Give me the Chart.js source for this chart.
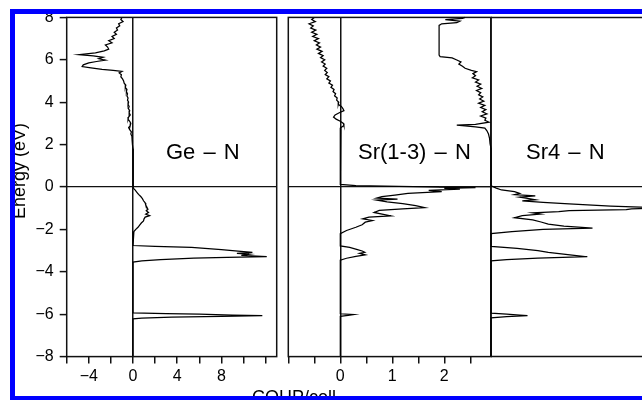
<!DOCTYPE html>
<html>
<head>
<meta charset="utf-8">
<script src="https://cdn.jsdelivr.net/npm/chart.js@4.4.1/dist/chart.umd.min.js"></script>
<style>
  html, body { margin: 0; padding: 0; background: #fff; }
  #wrap { position: relative; width: 642px; height: 400px; overflow: hidden; font-family: "Liberation Sans", Arial, sans-serif; }
  canvas { position: absolute; left: 0; top: 0; }
  .lbl { position: absolute; color: #000; white-space: nowrap; }
  .panel { font-size: 22px; line-height: 22px; word-spacing: 2px; }
  #frame { position: absolute; left: 10px; top: 9px; width: 700px; height: 382px; border: 5px solid #0000ff; border-right: none; }
</style>
</head>
<body>
<div id="wrap">
  <canvas id="ge" width="642" height="400"></canvas>
  <canvas id="sr" width="642" height="400"></canvas>
  <canvas id="sr4" width="720" height="400"></canvas>
  <div class="lbl panel" style="left:166px; top:141px;">Ge – N</div>
  <div class="lbl panel" style="left:358px; top:141px;">Sr(1-3) – N</div>
  <div class="lbl panel" style="left:526px; top:141px;">Sr4 – N</div>
  <div class="lbl" style="left:252px; top:388px; font-size:18px; line-height:18px;">COHP/cell</div>
  <div class="lbl" style="left:19px; top:171px; font-size:18px; line-height:18px; transform: translate(-50%, -50%) rotate(-90deg);">Energy (eV)</div>
  <div id="frame"></div>
</div>
<script>
// energy axis (shared by all panels)
const energyTicks = [-8, -6, -4, -2, 0, 2, 4, 6, 8];

// Ge - N
const geXLabels = [-4, 0, 4, 8];
const geEnergy = [8.0, 7.9, 7.8, 7.7, 7.6, 7.5, 7.4, 7.3, 7.2, 7.1,
  7.0, 6.9, 6.8, 6.7, 6.6, 6.5, 6.42, 6.33, 6.24, 6.18,
  6.12, 6.05, 5.98, 5.92, 5.85, 5.76, 5.68, 5.62, 5.55, 5.5,
  5.45, 5.38, 5.3, 5.2, 5.1, 5.0, 4.9, 4.8, 4.7, 4.6,
  4.5, 4.4, 4.3, 4.2, 4.1, 4.0, 3.9, 3.8, 3.7, 3.6,
  3.5, 3.4, 3.3, 3.2, 3.1, 3.0, 2.9, 2.8, 2.7, 2.6,
  2.5, 2.4, 2.2, 2.0, 1.8, 0.02,
  -0.06, -0.15, -0.25, -0.35, -0.45, -0.55, -0.65, -0.75, -0.85, -0.95,
  -1.05, -1.12, -1.2, -1.28, -1.35, -1.42, -1.5, -1.6, -1.7, -1.8,
  -1.9, -2.0, -2.1, -2.2,
  -2.76, -2.8, -2.85, -2.95, -3.02, -3.08, -3.13, -3.17, -3.22, -3.28, -3.32, -3.36, -3.42, -3.48, -3.54,
  -5.94, -5.97, -6.0, -6.04, -6.07, -6.1, -6.14, -6.18, -6.22, -8.0];
const geCohp = [-1.0, -1.1, -0.9, -1.3, -1.2, -1.5, -1.4, -1.7, -1.5, -1.9,
  -1.7, -2.2, -1.9, -2.5, -2.3, -2.2, -2.6, -3.4, -4.9, -3.6,
  -2.7, -3.1, -2.5, -3.3, -4.0, -4.5, -4.6, -3.8, -2.8, -1.8,
  -1.0, -1.25, -1.05, -1.1, -0.95, -0.85, -0.8, -0.65, -0.7, -0.55,
  -0.6, -0.5, -0.55, -0.45, -0.5, -0.4, -0.45, -0.35, -0.42, -0.3,
  -0.35, -0.25, -0.4, -0.45, -0.3, -0.2, -0.25, -0.4, -0.3, -0.15,
  -0.2, -0.1, -0.08, -0.05, 0, 0,
  0.05, 0.2, 0.35, 0.5, 0.7, 0.85, 0.95, 1.1, 1.15, 1.25,
  1.35, 1.2, 1.4, 1.15, 1.5, 1.1, 1.0, 0.95, 0.75, 0.6,
  0.45, 0.25, 0.08, 0,
  0, 2.0, 5.3, 8.0, 9.5, 10.8, 9.4, 10.5, 9.8, 12.1, 8.5, 5.5, 2.5, 0.8, 0,
  0, 3.0, 6.0, 9.0, 11.7, 8.0, 3.5, 0.8, 0, 0];

// Sr(1-3) - N
const srXLabels = [0, 1, 2];
const srEnergy = [8.0, 7.9, 7.8, 7.7, 7.6, 7.5, 7.4, 7.3, 7.2, 7.1,
  7.0, 6.9, 6.8, 6.7, 6.6, 6.5, 6.4, 6.3, 6.2, 6.1,
  6.0, 5.9, 5.8, 5.7, 5.6, 5.5, 5.4, 5.3, 5.2, 5.1,
  5.0, 4.9, 4.8, 4.7, 4.6, 4.5, 4.4, 4.3, 4.2, 4.1,
  4.0, 3.9, 3.8, 3.7, 3.6, 3.5, 3.4, 3.3, 3.2, 3.1,
  3.0, 2.9, 2.8, 2.7,
  0.12, 0.06, 0.02, -0.03, -0.07, -0.1, -0.16, -0.22, -0.3, -0.38,
  -0.45, -0.52, -0.57, -0.62, -0.7, -0.78, -0.88, -0.97, -1.03, -1.1,
  -1.2, -1.3, -1.36, -1.42, -1.5, -1.58, -1.66, -1.78, -1.9, -2.05,
  -2.2,
  -2.78, -2.85, -2.95, -3.02, -3.08, -3.13, -3.2, -3.27, -3.36, -3.45,
  -5.98, -6.02, -6.06, -6.1, -8.0];
const srCohp = [-0.5, -0.55, -0.48, -0.6, -0.52, -0.57, -0.47, -0.55, -0.45, -0.53,
  -0.42, -0.5, -0.4, -0.46, -0.38, -0.45, -0.35, -0.42, -0.33, -0.38,
  -0.3, -0.36, -0.29, -0.33, -0.26, -0.3, -0.25, -0.29, -0.22, -0.26,
  -0.19, -0.22, -0.15, -0.18, -0.12, -0.14, -0.09, -0.11, -0.06, -0.07,
  -0.03, -0.04, 0.02, 0.05, 0.07, -0.02, -0.1, -0.13, -0.08, 0.0,
  0.06, 0.07, 0.01, 0,
  0, 0.3, 1.4, 2.6, 2.0, 2.3, 1.7, 1.95, 1.3, 1.05,
  0.8, 0.7, 1.1, 0.7, 0.9, 1.2, 1.45, 1.62, 1.2, 0.75,
  0.65, 0.85, 0.97, 0.55, 0.43, 0.62, 0.48, 0.42, 0.3, 0.12,
  0,
  0, 0.18, 0.33, 0.42, 0.47, 0.37, 0.48, 0.3, 0.12, 0,
  0, 0.26, 0.15, 0, 0];

// Sr4 - N (the antibonding part reaches the left edge of its own axis at -1)
const sr4Energy = [8.0, 7.95, 7.9, 7.82, 7.75, 7.7, 7.62, 7.55, 7.3, 7.0,
  6.7, 6.4, 6.22, 6.15, 6.09, 6.0, 5.9, 5.8, 5.7, 5.6,
  5.5, 5.44, 5.35, 5.25, 5.15, 5.05, 4.95, 4.85, 4.75, 4.65,
  4.55, 4.45, 4.35, 4.25, 4.15, 4.05, 3.95, 3.85, 3.75, 3.65,
  3.55, 3.45, 3.35, 3.25, 3.15, 3.06, 2.95, 2.92, 2.88, 2.84,
  2.78, 2.65, 2.5, 2.3, 2.05, 1.8, 0.05,
  -0.05, -0.14, -0.22, -0.3, -0.36, -0.42, -0.48, -0.54, -0.6, -0.66,
  -0.72, -0.8, -0.9, -0.98, -1.03, -1.07, -1.12, -1.16, -1.22, -1.28,
  -1.35, -1.45, -1.55, -1.65, -1.75, -1.85, -1.94, -2.0, -2.1, -2.2,
  -2.8, -2.9, -3.0, -3.08, -3.15, -3.22, -3.29, -3.35, -3.42, -3.48,
  -5.95, -6.0, -6.04, -6.07, -6.11, -6.17, -8.0];
const sr4Cohp = [-0.5, -0.55, -0.88, -0.6, -0.66, -0.95, -1.0, -1.0, -1.0, -1.0,
  -1.0, -1.0, -1.0, -0.98, -0.75, -0.67, -0.58, -0.62, -0.55, -0.5,
  -0.38, -0.28, -0.35, -0.3, -0.36, -0.24, -0.3, -0.2, -0.27, -0.18,
  -0.28, -0.2, -0.24, -0.16, -0.22, -0.14, -0.24, -0.12, -0.2, -0.1,
  -0.17, -0.08, -0.2, -0.1, -0.12, -0.04, -0.3, -0.66, -0.5, -0.3,
  -0.12, -0.08, -0.05, -0.03, -0.02, 0, 0,
  0.1, 0.2, 0.45, 0.55, 0.45, 0.85, 0.55, 0.7, 0.85, 0.6,
  1.0, 1.5, 2.3, 3.3, 2.7, 2.6, 1.5, 1.3, 0.8, 0.95,
  0.6, 0.45, 0.8, 0.96, 1.1, 1.4, 1.95, 1.0, 0.4, 0,
  0, 0.5, 0.9, 1.1, 1.35, 1.6, 1.85, 0.9, 0.3, 0,
  0, 0.3, 0.55, 0.7, 0.3, 0, 0];

Chart.defaults.font.family = '"Liberation Sans", Arial, sans-serif';
Chart.defaults.font.size = 16;
Chart.defaults.color = '#000';

const AXIS = '#111';
const near = (a, b) => Math.abs(a - b) < 1e-6;
const fmt = v => (v < 0 ? '\u2212' + Math.abs(v) : String(v));
const zeroOnly = c => (c.tick && near(c.tick.value, 0) ? AXIS : 'rgba(0,0,0,0)');

// box round the plot area (or just top/bottom lines for the last panel)
const framePlugin = {
  id: 'frame',
  afterDatasetsDraw(chart, args, opts) {
    const { ctx, chartArea: a } = chart;
    ctx.save();
    ctx.strokeStyle = AXIS;
    ctx.lineWidth = 1.5;
    if (opts.full) {
      ctx.strokeRect(a.left, a.top, a.right - a.left, a.bottom - a.top);
    } else {
      const x0 = chart.scales.x.getPixelForValue(0);
      ctx.beginPath();
      ctx.moveTo(x0, a.top); ctx.lineTo(a.right, a.top);
      ctx.moveTo(x0, a.bottom); ctx.lineTo(a.right, a.bottom);
      ctx.stroke();
    }
    ctx.restore();
  }
};

function makePanel(id, cfg) {
  const points = cfg.energy.map((e, i) => ({ x: cfg.cohp[i], y: e }));
  return new Chart(document.getElementById(id), {
    type: 'scatter',
    data: {
      datasets: [{
        data: points,
        showLine: true,
        borderColor: '#000',
        borderWidth: 1.25,
        pointRadius: 0,
        tension: 0,
        clip: 2
      }]
    },
    options: {
      responsive: false,
      animation: false,
      events: [],
      layout: { padding: cfg.padding },
      plugins: {
        legend: { display: false },
        tooltip: { enabled: false },
        frame: { full: cfg.full }
      },
      scales: {
        x: {
          type: 'linear',
          min: cfg.xMin,
          max: cfg.xMax,
          ticks: {
            stepSize: cfg.xStep,
            includeBounds: false,
            autoSkip: false,
            maxRotation: 0,
            display: cfg.xLabels.length > 0,
            padding: 3,
            callback: v => (cfg.xLabels.some(l => near(l, v)) ? fmt(v) : '')
          },
          grid: {
            color: zeroOnly,
            lineWidth: 1.5,
            drawTicks: cfg.xLabels.length > 0,
            tickLength: 7,
            tickColor: AXIS,
            tickWidth: 1.5
          },
          border: { display: false },
          afterFit: s => { s.height = 30; }
        },
        y: {
          type: 'linear',
          min: -8,
          max: 8,
          ticks: {
            stepSize: 2,
            autoSkip: false,
            display: cfg.yLabels,
            padding: 6,
            callback: v => (energyTicks.some(l => near(l, v)) ? fmt(v) : '')
          },
          grid: {
            color: zeroOnly,
            lineWidth: 1.2,
            drawTicks: cfg.yLabels,
            tickLength: 7,
            tickColor: AXIS,
            tickWidth: 1.5
          },
          border: { display: false },
          afterFit: s => { s.width = cfg.yWidth; }
        }
      }
    },
    plugins: [framePlugin]
  });
}

makePanel('ge', {
  energy: geEnergy, cohp: geCohp,
  xMin: -6, xMax: 13, xStep: 2, xLabels: geXLabels,
  yLabels: true, yWidth: 66.7, full: true,
  padding: { left: 0, top: 17.4, right: 365.3, bottom: 13.4 }
});

makePanel('sr', {
  energy: srEnergy, cohp: srCohp,
  xMin: -1, xMax: 2.9, xStep: 0.5, xLabels: srXLabels,
  yLabels: false, yWidth: 0, full: true,
  padding: { left: 288.3, top: 17.4, right: 150.9, bottom: 13.4 }
});

makePanel('sr4', {
  energy: sr4Energy, cohp: sr4Cohp,
  xMin: -1, xMax: 3.9, xStep: 0.5, xLabels: [],
  yLabels: false, yWidth: 0, full: false,
  padding: { left: 439.1, top: 17.4, right: 26.1, bottom: 13.4 }
});
</script>
</body>
</html>
